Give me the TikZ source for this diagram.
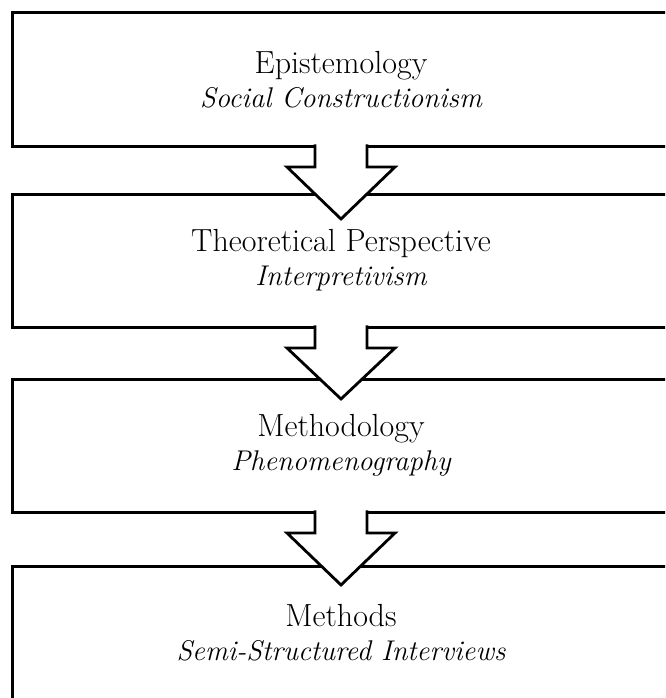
\documentclass[tikz,border=0pt]{standalone}
\usetikzlibrary{positioning,calc}

\newcommand\kind[1]{{\fontsize{28.5}{34}\selectfont\itshape #1}}

\begin{document}
\begin{tikzpicture}[x=1pt,y=-1pt,
    stage/.style={draw,line width=3pt,outer sep=0pt,minimum width=658pt,minimum height=133pt,
        align=center,font=\fontsize{32}{34}\selectfont},
    flow/.style={draw,line width=2.8pt,fill=white}]
        \useasboundingbox(0,0)rectangle(665,698);
        \clip(0,0)rectangle(665,698);

        \node[stage](epi)at(341,79.5){Epistemology\\\kind{Social Constructionism}};
        \node[stage,below=48pt of epi](theo){Theoretical Perspective\\\kind{Interpretivism}};
        \node[stage,below=52pt of theo](meth){Methodology\\\kind{Phenomenography}};
        \node[stage,below=54pt of meth](tech){Methods\\\kind{Semi-Structured Interviews}};

        \filldraw[flow]($(epi.south)+(-26,-1.6)$)--++(0,22.6)--++(-28,0)--($(epi.south)+(0,73)$)--($(epi.south)+(54,21)$)--++(-28,0)--++(0,-22.6);
        \filldraw[flow]($(theo.south)+(-26,-1.6)$)--++(0,22.6)--++(-28,0)--($(theo.south)+(0,72)$)--($(theo.south)+(54,21)$)--++(-28,0)--++(0,-22.6);
        \filldraw[flow]($(meth.south)+(-26,-1.6)$)--++(0,22.6)--++(-28,0)--($(meth.south)+(0,73)$)--($(meth.south)+(54,21)$)--++(-28,0)--++(0,-22.6);
    \end{tikzpicture}
\end{document}
